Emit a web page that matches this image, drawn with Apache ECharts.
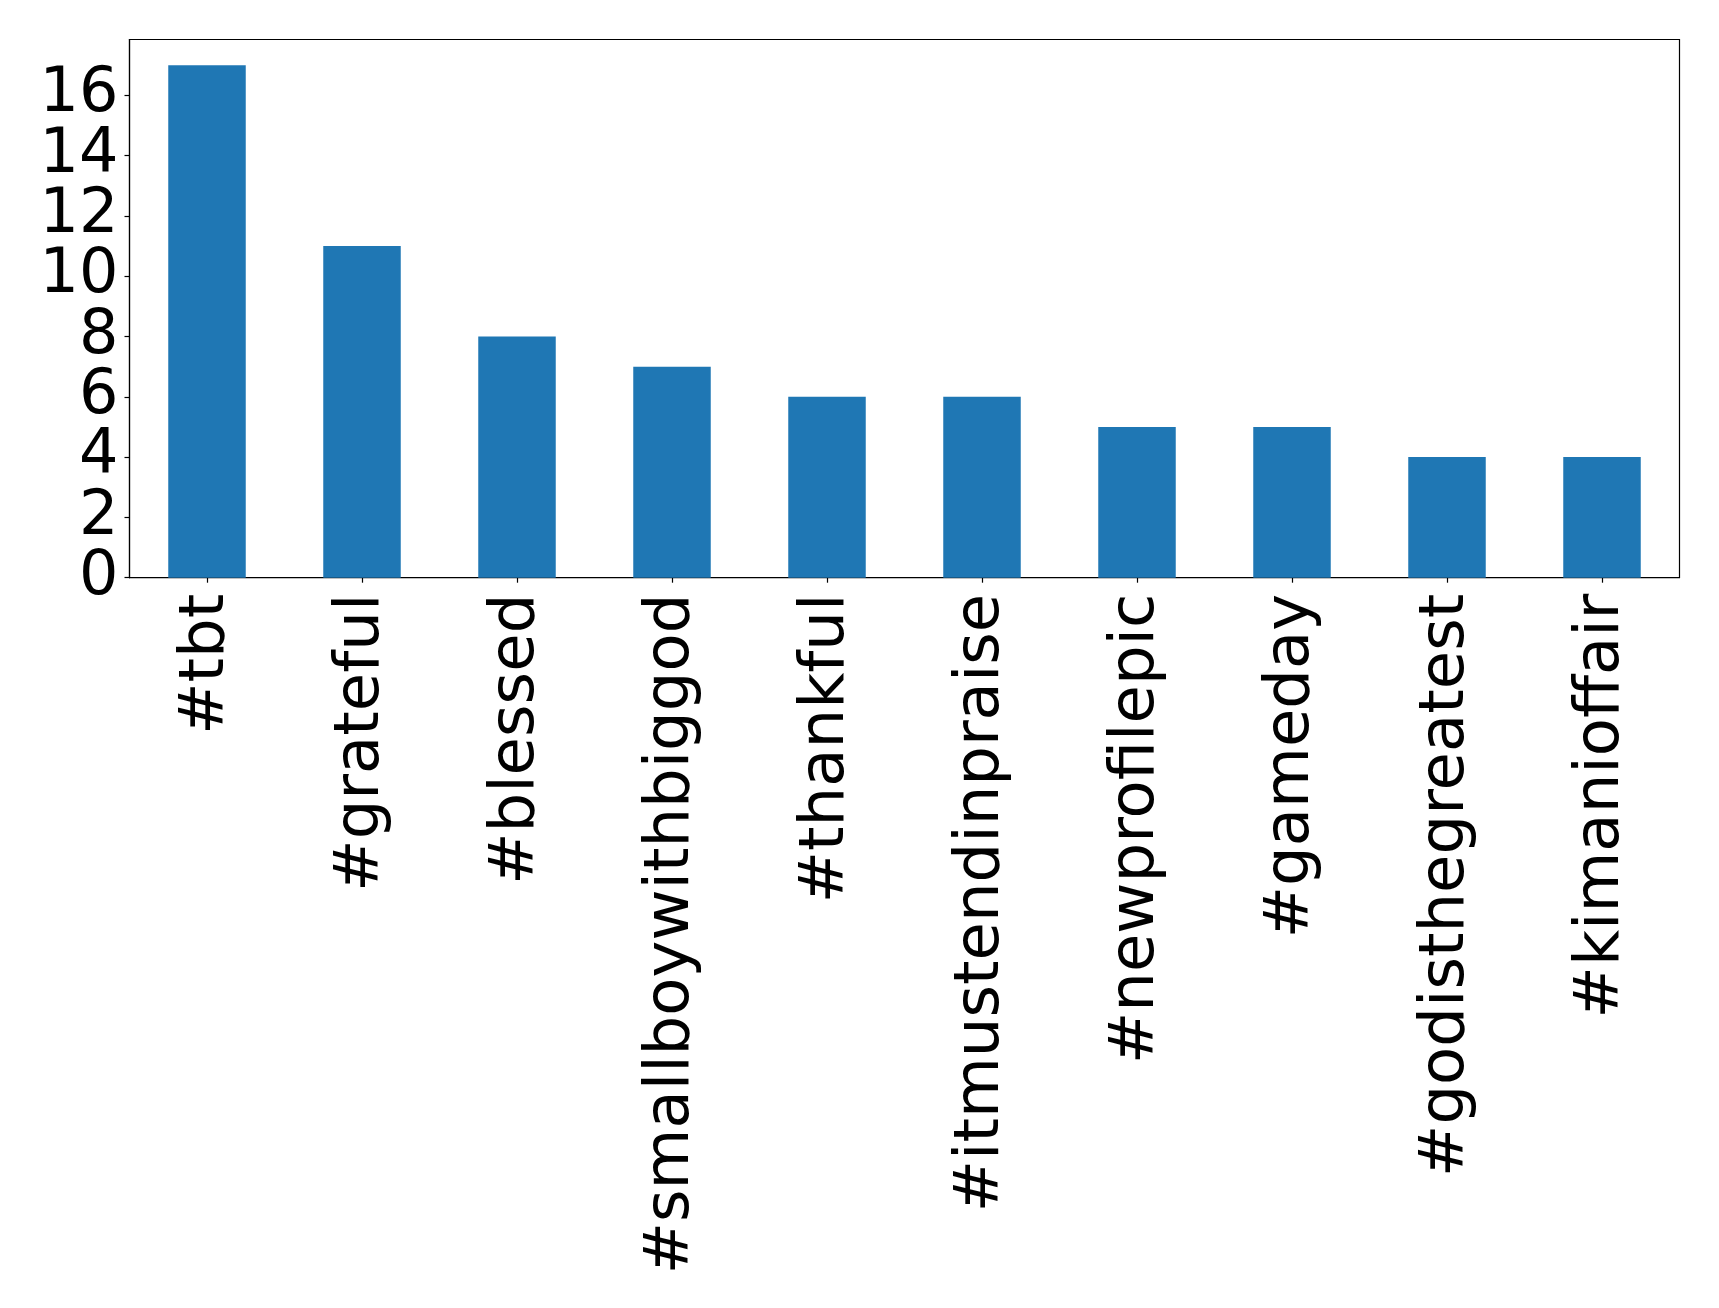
<!DOCTYPE html>
<html>
<head>
<meta charset="utf-8">
<script src="https://cdn.jsdelivr.net/npm/echarts@6/dist/echarts.min.js"></script>
<style>
html,body{margin:0;padding:0;background:#fff;}
#chart{width:1719px;height:1308px;}
</style>
</head>
<body>
<div id="chart"></div>
<script>
const categories = ['#tbt','#grateful','#blessed','#smallboywithbiggod','#thankful','#itmustendinpraise','#newprofilepic','#gameday','#godisthegreatest','#kimanioffair'];
const counts = [17, 11, 8, 7, 6, 6, 5, 5, 4, 4];
const yMin = 0;
const yMax = 17.85;
const yInterval = 2;

const chart = echarts.init(document.getElementById('chart'), null, {renderer: 'canvas'});
const font = 'DejaVu Sans';
const baseY = {
  type: 'value',
  position: 'left',
  offset: 0,
  min: yMin, max: yMax, interval: yInterval,
  splitLine: {show: false}
};
chart.setOption({
  animation: false,
  backgroundColor: '#ffffff',
  grid: {
    left: 129.5, right: 39.5, top: 39.5, bottom: 1308 - 577.7,
    show: true, borderColor: '#000', borderWidth: 1.2, backgroundColor: 'transparent'
  },
  xAxis: {
    type: 'category',
    data: categories,
    boundaryGap: true,
    axisLine: {show: true, lineStyle: {color: '#000', width: 1.2}},
    axisTick: {show: true, alignWithLabel: true, length: 5, lineStyle: {color: '#000', width: 1.2}},
    axisLabel: {rotate: 90, margin: 16, fontFamily: font, fontSize: 62.5, color: '#000', interval: 0},
    splitLine: {show: false}
  },
  yAxis: [
    Object.assign({}, baseY, {
      axisLine: {show: true, lineStyle: {color: '#000', width: 1.2}},
      axisTick: {show: true, length: 5, lineStyle: {color: '#000', width: 1.2}},
      axisLabel: {
        margin: 11, color: '#000', fontFamily: font, fontSize: 62, showMaxLabel: false,
        formatter: function (v) { return v === yMin ? '' : String(v); }
      }
    }),
    Object.assign({}, baseY, {
      axisLine: {show: false},
      axisTick: {show: false},
      axisLabel: {
        margin: 11, color: '#000', fontFamily: font, fontSize: 62, showMinLabel: true, showMaxLabel: false,
        formatter: function (v) { return v === yMin ? String(v) : ''; }
      }
    })
  ],
  series: [{
    type: 'bar',
    yAxisIndex: 0,
    data: counts,
    barWidth: '50%',
    itemStyle: {color: '#1f77b4'}
  }]
});
</script>
</body>
</html>
